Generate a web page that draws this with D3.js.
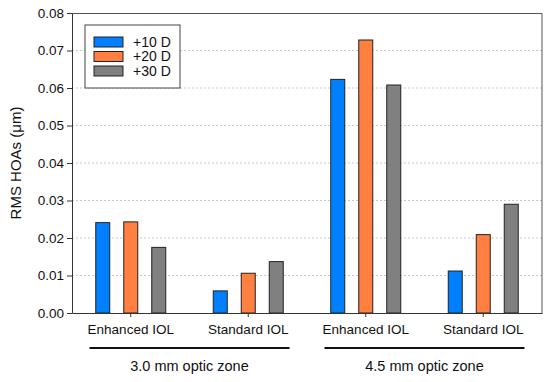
<!DOCTYPE html>
<html>
<head>
<meta charset="utf-8">
<script src="https://cdn.jsdelivr.net/npm/d3@7"></script>
<style>
  body { margin: 0; background: #fff; }
  svg { font-family: "Liberation Sans", Arial, sans-serif; }
</style>
</head>
<body>
<div id="chart"></div>
<script>
// data
var categories = ["Enhanced IOL", "Standard IOL", "Enhanced IOL ", "Standard IOL "];
var categoryLabels = ["Enhanced IOL", "Standard IOL", "Enhanced IOL", "Standard IOL"];
var series = ["+10 D", "+20 D", "+30 D"];
var values10 = [0.0241, 0.0059, 0.0623, 0.0112];
var values20 = [0.0243, 0.0106, 0.0728, 0.0209];
var values30 = [0.0175, 0.0137, 0.0608, 0.0290];
var zones = ["3.0 mm optic zone", "4.5 mm optic zone"];
var yTicks = [0, 0.01, 0.02, 0.03, 0.04, 0.05, 0.06, 0.07, 0.08];
var colors = ["#0080ff", "#ff8040", "#808080"];

var margin = { top: 13, right: 8, bottom: 69, left: 72 },
  width = 550 - margin.left - margin.right,
  height = 382 - margin.top - margin.bottom;

var svg = d3
  .select("#chart")
  .append("svg")
  .attr("width", width + margin.left + margin.right)
  .attr("height", height + margin.top + margin.bottom)
  .append("g")
  .attr("transform", "translate(" + margin.left + "," + margin.top + ")");

var x = d3.scaleBand().domain(categories).range([0, width]).padding(0);
var y = d3.scaleLinear().domain([0, 0.08]).range([height, 0]);
var xs = d3.scaleBand().domain(series).range([-35, 35]).paddingInner(0.5);

// grid
svg
  .selectAll(".grid")
  .data(yTicks.slice(1, -1))
  .enter()
  .append("line")
  .attr("x1", 0)
  .attr("x2", width)
  .attr("y1", (d) => y(d))
  .attr("y2", (d) => y(d))
  .attr("stroke", "#c8c8c8")
  .attr("stroke-dasharray", "2,2");

// frame top and right
svg.append("path")
  .attr("d", "M0,0.5H" + width + "V" + height)
  .attr("fill", "none")
  .attr("stroke", "#555")
  .attr("stroke-width", 1);

// bars
var table = categories.map((c, i) => ({
  cat: c,
  vals: [values10[i], values20[i], values30[i]]
}));
var groups = svg
  .selectAll(".grp")
  .data(table)
  .enter()
  .append("g")
  .attr("transform", (d) => "translate(" + (x(d.cat) + x.bandwidth() / 2) + ",0)");
groups
  .selectAll("rect")
  .data((d) => d.vals.map((v, j) => ({ s: series[j], v: v, j: j })))
  .enter()
  .append("rect")
  .attr("x", (d) => xs(d.s))
  .attr("width", xs.bandwidth())
  .attr("y", (d) => y(d.v))
  .attr("height", (d) => height - y(d.v))
  .attr("fill", (d) => colors[d.j])
  .attr("stroke", "#222")
  .attr("stroke-width", 1);

// y axis
var yAxis = svg.append("g")
  .call(d3.axisLeft(y).tickValues(yTicks).tickFormat(d3.format(".2f")).tickSize(5).tickSizeOuter(0));
yAxis.selectAll("text").attr("font-size", 13.5).attr("fill", "#111").attr("font-family", "Liberation Sans, Arial, sans-serif");
yAxis.selectAll("line, path").attr("stroke", "#333");

// x axis
var xAxis = svg.append("g")
  .attr("transform", "translate(0," + height + ")")
  .call(d3.axisBottom(x).tickSize(4).tickSizeOuter(0).tickFormat((d, i) => categoryLabels[i]));
xAxis.selectAll("text").attr("font-size", 13.5).attr("fill", "#111").attr("dy", "1.05em").attr("font-family", "Liberation Sans, Arial, sans-serif");
xAxis.selectAll("line, path").attr("stroke", "#333");

// zone labels with underline
zones.forEach((z, i) => {
  var cx = x(categories[i * 2 + 1]);
  svg.append("line")
    .attr("x1", cx - 100).attr("x2", cx + 100)
    .attr("y1", height + 35).attr("y2", height + 35)
    .attr("stroke", "#111").attr("stroke-width", 2);
  svg.append("text")
    .attr("x", cx).attr("y", height + 58)
    .attr("text-anchor", "middle")
    .attr("font-size", 14.5).attr("fill", "#111")
    .text(z);
});

// y label
svg.append("text")
  .attr("transform", "rotate(-90)")
  .attr("x", -height / 2)
  .attr("y", -51)
  .attr("text-anchor", "middle")
  .attr("font-size", 15)
  .attr("fill", "#111")
  .text("RMS HOAs (\u03bcm)");

// legend
var lg = svg.append("g").attr("transform", "translate(13,12)");
lg.append("rect")
  .attr("width", 95).attr("height", 63)
  .attr("fill", "#fff").attr("stroke", "#444");
series.forEach((s, i) => {
  lg.append("rect")
    .attr("x", 9).attr("y", 12 + i * 14.5)
    .attr("width", 29).attr("height", 10)
    .attr("fill", colors[i]).attr("stroke", "#222");
  lg.append("text")
    .attr("x", 48).attr("y", 17 + i * 14.5)
    .attr("dy", "0.35em")
    .attr("font-size", 14).attr("fill", "#111")
    .text(s);
});
</script>
</body>
</html>
